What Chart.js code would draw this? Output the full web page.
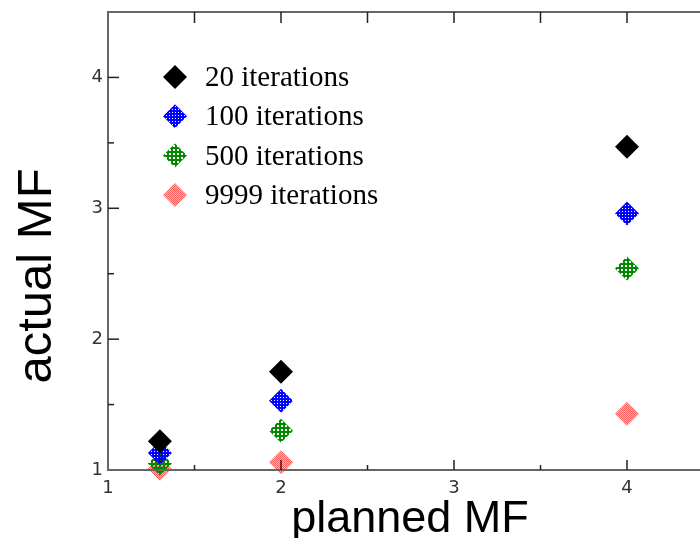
<!DOCTYPE html>
<html>
<head>
<meta charset="utf-8">
<title>actual MF vs planned MF</title>
<script src="https://cdn.jsdelivr.net/npm/chart.js@4.4.1/dist/chart.umd.min.js"></script>
<style>
  body { margin: 0; background: #fff; }
  #wrap { width: 700px; height: 538px; overflow: hidden; }
</style>
</head>
<body>
<div id="wrap"><canvas id="mfChart" width="720" height="538"></canvas></div>
<script>
const plannedMF = [1.3, 2, 4];
const iter20 = [1.22, 1.75, 3.47];
const iter100 = [1.13, 1.53, 2.96];
const iter500 = [1.05, 1.30, 2.54];
const iter9999 = [1.01, 1.06, 1.43];
const seriesLabels = ['20 iterations', '100 iterations', '500 iterations', '9999 iterations'];
const axisMin = 1;
const axisMax = 4.5;
const tickStep = 0.5;

// small tiles for the hatched marker fills
function makePattern(size, paint) {
    const c = document.createElement('canvas');
    c.width = size;
    c.height = size;
    const g = c.getContext('2d');
    paint(g);
    return g.createPattern(c, 'repeat');
}

const solidBlack = '#000000';
const blueDots = makePattern(3, g => {
    g.fillStyle = '#0000ff';
    g.fillRect(0, 0, 3, 3);
    g.clearRect(1, 1, 1, 1);
});
const greenGrid = makePattern(4, g => {
    g.fillStyle = '#008a00';
    g.fillRect(0, 0, 4, 4);
    g.clearRect(1, 1, 2, 2);
});
const pinkChecker = makePattern(2, g => {
    g.fillStyle = '#ff5c5c';
    g.fillRect(0, 0, 1, 1);
    g.fillRect(1, 1, 1, 1);
    g.fillStyle = 'rgba(255,120,120,0.55)';
    g.fillRect(1, 0, 1, 1);
    g.fillRect(0, 1, 1, 1);
});

const fills = [solidBlack, blueDots, greenGrid, pinkChecker];
const seriesValues = [iter20, iter100, iter500, iter9999];

function diamond(ctx, x, y, r) {
    ctx.beginPath();
    ctx.moveTo(x - r, y);
    ctx.lineTo(x, y - r);
    ctx.lineTo(x + r, y);
    ctx.lineTo(x, y + r);
    ctx.closePath();
    ctx.fill();
}

const framePlugin = {
    id: 'frame',
    afterDatasetsDraw(chart) {
        const { ctx, chartArea: a, scales: { x, y } } = chart;
        const line = (x1, y1, x2, y2) => {
            ctx.beginPath();
            ctx.moveTo(x1, y1);
            ctx.lineTo(x2, y2);
            ctx.stroke();
        };
        ctx.save();
        ctx.strokeStyle = '#666';
        ctx.lineWidth = 2;
        ctx.strokeRect(a.left, a.top, a.right - a.left, a.bottom - a.top);

        ctx.strokeStyle = '#222';
        ctx.lineWidth = 1.5;
        x.ticks.forEach(t => {
            if (t.value <= axisMin || t.value >= axisMax) return;
            const px = x.getPixelForValue(t.value);
            const major = Number.isInteger(t.value);
            line(px, a.bottom, px, a.bottom - (major ? 10 : 5));
            line(px, a.top, px, a.top + 11);
        });
        y.ticks.forEach(t => {
            if (t.value <= axisMin || t.value >= axisMax) return;
            const py = y.getPixelForValue(t.value);
            const major = Number.isInteger(t.value);
            line(a.left, py, a.left + (major ? 11 : 6), py);
            line(a.right, py, a.right - (major ? 11 : 6), py);
        });
        ctx.restore();
    }
};

const labelsPlugin = {
    id: 'labels',
    afterDraw(chart) {
        const { ctx } = chart;
        ctx.save();
        // axis titles
        ctx.fillStyle = '#000';
        ctx.textAlign = 'center';
        ctx.textBaseline = 'alphabetic';
        ctx.font = '45px "Liberation Sans", Arial, sans-serif';
        ctx.fillText('planned MF', 410, 532);
        ctx.save();
        ctx.font = '49px "Liberation Sans", Arial, sans-serif';
        ctx.translate(51, 276);
        ctx.rotate(-Math.PI / 2);
        ctx.fillText('actual MF', 0, 0);
        ctx.restore();

        // legend
        ctx.font = '29px "Liberation Serif", "Times New Roman", serif';
        ctx.textAlign = 'left';
        chart.data.datasets.forEach((ds, i) => {
            const ly = 77 + i * 39.3;
            ctx.fillStyle = ds.backgroundColor;
            diamond(ctx, 175, ly, 12);
            ctx.fillStyle = '#000';
            ctx.fillText(ds.label, 205, ly + 9);
        });
        ctx.restore();
    }
};

const tickFont = { family: '"DejaVu Sans", sans-serif', size: 18 };

const ctx = document.getElementById('mfChart').getContext('2d');
const mfChart = new Chart(ctx, {
    type: 'scatter',
    data: {
        datasets: seriesLabels.map((label, i) => ({
            label: label,
            data: plannedMF.map((px, j) => ({ x: px, y: seriesValues[i][j] })),
            pointStyle: 'rectRot',
            pointRadius: 12,
            pointHoverRadius: 12,
            backgroundColor: fills[i],
            borderWidth: 0,
            clip: false
        }))
    },
    options: {
        responsive: false,
        animation: false,
        events: [],
        layout: {
            autoPadding: false,
            padding: { top: 12, right: 6.5, left: 0, bottom: 0 }
        },
        scales: {
            x: {
                type: 'linear',
                min: axisMin,
                max: axisMax,
                ticks: {
                    stepSize: tickStep,
                    autoSkip: false,
                    maxRotation: 0,
                    padding: 8,
                    color: '#333',
                    font: tickFont,
                    callback: v => Number.isInteger(v) ? v : ''
                },
                grid: { display: false, drawTicks: false },
                border: { display: false },
                afterFit: s => {
                    s.height = 68;
                    s.paddingLeft = 0;
                    s.paddingRight = 0;
                }
            },
            y: {
                type: 'linear',
                min: axisMin,
                max: axisMax,
                ticks: {
                    stepSize: tickStep,
                    autoSkip: false,
                    padding: 5,
                    color: '#333',
                    font: tickFont,
                    callback: v => Number.isInteger(v) ? v : ''
                },
                grid: { display: false, drawTicks: false },
                border: { display: false },
                afterFit: s => {
                    s.width = 108;
                    s.paddingTop = 0;
                    s.paddingBottom = 0;
                }
            }
        },
        plugins: {
            legend: { display: false },
            tooltip: { enabled: false }
        }
    },
    plugins: [framePlugin, labelsPlugin]
});
</script>
</body>
</html>
